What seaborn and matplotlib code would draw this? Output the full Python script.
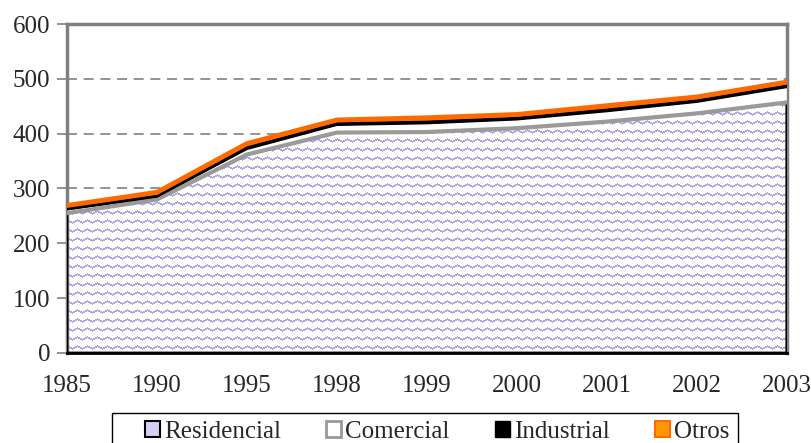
import numpy as np
import pandas as pd
import matplotlib
matplotlib.use("Agg")
import matplotlib.pyplot as plt
import seaborn as sns
from matplotlib.patches import Patch, Rectangle

# datos
years = ['1985', '1990', '1995', '1998', '1999', '2000', '2001', '2002', '2003']
residencial = [255, 280, 362, 402, 403, 410, 422, 437, 457]
comercial = [5, 3, 8, 12, 14, 14, 17, 19, 26]
industrial = [3, 3, 4, 4, 4, 4, 4, 4, 4]
otros = [6, 7, 8, 7, 8, 7, 8, 7, 7]

sns.set_style('white')
plt.rcParams['font.family'] = ['Liberation Serif', 'DejaVu Serif']

x = np.arange(len(years))
df = pd.DataFrame({'x': x, 'Residencial': residencial, 'Comercial': comercial,
                   'Industrial': industrial, 'Otros': otros})
c1 = df['Residencial']
c2 = c1 + df['Comercial']
c3 = c2 + df['Industrial']
c4 = c3 + df['Otros']

fig = plt.figure(figsize=(8.12, 4.43), dpi=100)
ax = fig.add_axes([0.0825, 0.2032, 0.8865, 0.7426])

# textura ondulada para Residencial
H, W = 329, 720
rows = np.arange(H)[:, None]
cols = np.arange(W)[None, :]
off = np.round(np.abs((cols % 10) - 5) * 0.6).astype(int)
mask = (((rows + off) % 9) == 0) | (((rows + off) % 9) == 1)
tex = np.ones((H, W, 3))
tex[mask] = np.array([172, 166, 236]) / 255.0

res_fill = ax.fill_between(df['x'], 0, c1, facecolor='none', edgecolor='none', zorder=2)
im = ax.imshow(tex, extent=(x[0], x[-1], 0, 600), aspect='auto',
               interpolation='nearest', zorder=2)
im.set_clip_path(res_fill.get_paths()[0], ax.transData)
ax.fill_between(df['x'], 0, c1, facecolor='none', edgecolor='black', lw=2, zorder=3)

# Comercial, Industrial, Otros
ax.fill_between(df['x'], c1, c2, facecolor='white', edgecolor='none', zorder=3)
ax.fill_between(df['x'], c2, c3, facecolor='black', edgecolor='none', zorder=3)
ax.fill_between(df['x'], c3, c4, facecolor='#ff6a00', edgecolor='none', zorder=3)

lines = pd.DataFrame({'x': np.concatenate([x, x, x]),
                      'y': np.concatenate([c1, c3, c4]),
                      'serie': ['r'] * len(x) + ['i'] * len(x) + ['o'] * len(x)})
sns.lineplot(data=lines[lines.serie == 'r'], x='x', y='y', color='#9a9a9a', lw=3,
             ax=ax, zorder=4, legend=False)
sns.lineplot(data=lines[lines.serie == 'i'], x='x', y='y', color='black', lw=2.2,
             ax=ax, zorder=5, legend=False)
sns.lineplot(data=lines[lines.serie == 'o'], x='x', y='y', color='#ff6a00', lw=3.5,
             ax=ax, zorder=6, legend=False)

ax.set_xlim(x[0], x[-1])
ax.set_ylim(0, 600)
ax.set_xticks(x)
ax.set_xticklabels(years)
ax.set_yticks(range(0, 601, 100))
ax.set_xlabel('')
ax.set_ylabel('')

ax.yaxis.grid(True, color='#808080', lw=1.2, linestyle=(0, (6, 4)))
ax.set_axisbelow(True)

for s in ['top', 'right', 'left']:
    ax.spines[s].set_color('#808080')
    ax.spines[s].set_linewidth(2.5)
ax.spines['bottom'].set_color('black')
ax.spines['bottom'].set_linewidth(2)

ax.tick_params(axis='y', direction='out', length=7, width=1.2, color='#808080',
               labelsize=18, pad=5, left=True)
ax.tick_params(axis='x', direction='in', length=6, width=1, color='#808080',
               labelsize=18, pad=16, bottom=True)

# marco de la leyenda (recortado abajo como en el original)
fig.patches.append(Rectangle((112 / 812, -0.05), 626 / 812, 0.05 + 30 / 443,
                             transform=fig.transFigure, facecolor='white',
                             edgecolor='black', lw=1))

handles = [Patch(facecolor='#d4d0f4', edgecolor='black', lw=1.5, label='Residencial'),
           Patch(facecolor='white', edgecolor='#999999', lw=2, label='Comercial'),
           Patch(facecolor='black', edgecolor='black', label='Industrial'),
           Patch(facecolor='#ff9900', edgecolor='#ff6a00', lw=1.5, label='Otros')]
leg = fig.legend(handles=handles, loc='upper center',
                 bbox_to_anchor=(140 / 812, 0.0, 594 / 812, 0.061), mode='expand',
                 ncol=4, fontsize=18, frameon=False,
                 handlelength=0.6, handleheight=0.6, handletextpad=0.15,
                 borderpad=0.2, borderaxespad=0)

fig.savefig('out.png', dpi=100)
